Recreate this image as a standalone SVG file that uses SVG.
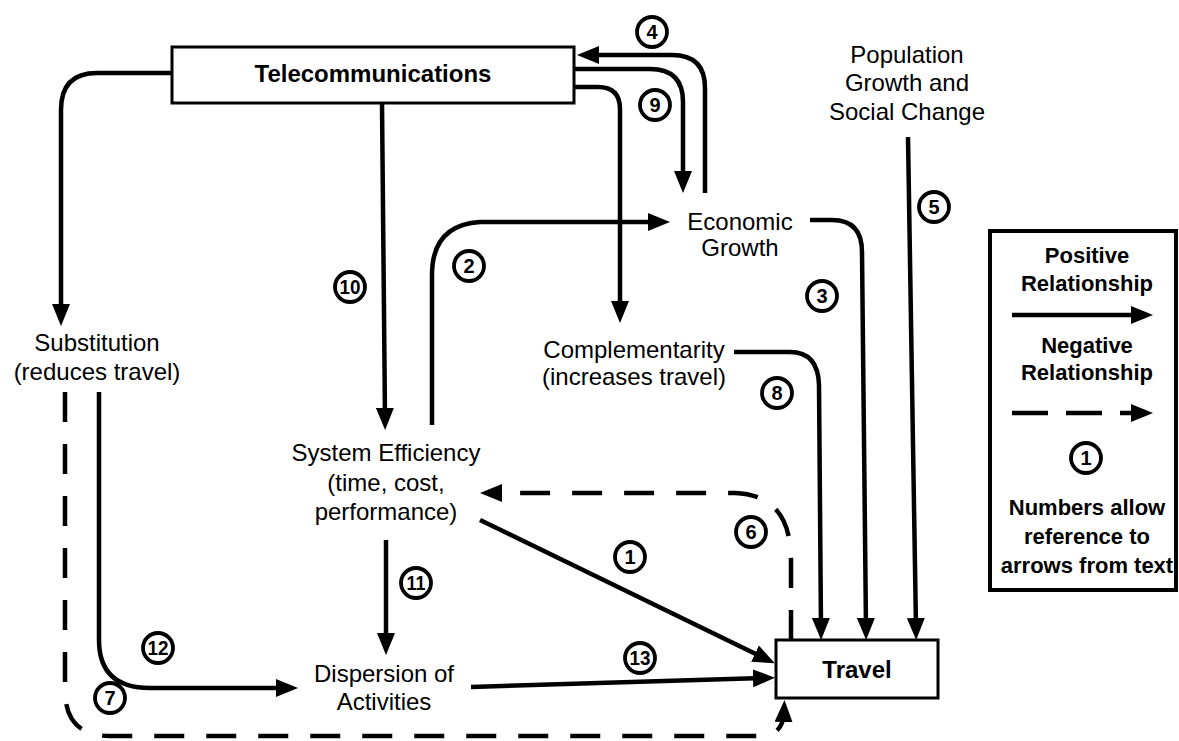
<svg xmlns="http://www.w3.org/2000/svg" width="1179" height="741" viewBox="0 0 1179 741">
<style>
text{font-family:"Liberation Sans",Arial,Helvetica,sans-serif;fill:#000}
.t{font-size:24px;text-anchor:middle}
.b{font-size:24px;font-weight:bold;text-anchor:middle}
.lg{font-size:22px;font-weight:bold;text-anchor:middle}
.box{fill:#fff;stroke:#000;stroke-width:3}
.c{fill:none;stroke:#000;stroke-width:4.5}
.d{fill:none;stroke:#000;stroke-width:4.5;stroke-dasharray:30 22}
.lc{fill:#fff;stroke:#000;stroke-width:3.8}
.ln{font-size:20px;font-weight:bold;text-anchor:middle}
</style>
<defs>
<marker id="ah" markerUnits="userSpaceOnUse" markerWidth="24" markerHeight="18" viewBox="0 0 24 18" refX="10" refY="9" orient="auto">
<path d="M0,0 L22,9 L0,18 z" fill="#000"/>
</marker>
</defs>
<rect width="1179" height="741" fill="#fff"/>

<g id="connectors">
<path class="c" d="M172,73 H97 Q61,73 61,110 V314" marker-end="url(#ah)"/>
<path class="c" d="M382,103 L385,418" marker-end="url(#ah)"/>
<path class="c" d="M705,193 V88 Q705,55 672,55 H589" marker-end="url(#ah)"/>
<path class="c" d="M574,69 H650 Q683,69 683,102 V181" marker-end="url(#ah)"/>
<path class="c" d="M574,87 H598 Q620,87 620,109 V311" marker-end="url(#ah)"/>
<path class="c" d="M432,425 V275 Q432,225 480,222 H658" marker-end="url(#ah)"/>
<path class="c" d="M810,220 H832 Q862,220 862,252 L866,628" marker-end="url(#ah)"/>
<path class="c" d="M908,137 L916,628" marker-end="url(#ah)"/>
<path class="c" d="M734,352 H790 Q818,352 819,385 L821,628" marker-end="url(#ah)"/>
<path class="c" d="M99,392 V640 Q99,688 150,688 H286" marker-end="url(#ah)"/>
<path class="c" d="M386,540 V643" marker-end="url(#ah)"/>
<path class="c" d="M480,520 L764,658" marker-end="url(#ah)"/>
<path class="c" d="M471,687 L763,678" marker-end="url(#ah)"/>
<path class="d" d="M791,640 V560 Q791,495 735,493 H492" marker-end="url(#ah)"/>
<path class="d" d="M65,392 V690 Q65,736 110,736 H760 Q783,736 784,712" marker-end="url(#ah)"/>
</g>

<g id="node-telecom">
<rect class="box" x="172" y="47" width="402" height="56"/>
<text class="b" x="373" y="82">Telecommunications</text>
</g>
<g id="node-population">
<text class="t" x="907" y="63">Population</text>
<text class="t" x="907" y="91">Growth and</text>
<text class="t" x="907" y="120">Social Change</text>
</g>
<g id="node-economic">
<text class="t" x="740" y="230">Economic</text>
<text class="t" x="740" y="256">Growth</text>
</g>
<g id="node-complementarity">
<text class="t" x="634" y="358">Complementarity</text>
<text class="t" x="634" y="385">(increases travel)</text>
</g>
<g id="node-substitution">
<text class="t" x="97" y="351">Substitution</text>
<text class="t" x="97" y="380">(reduces travel)</text>
</g>
<g id="node-efficiency">
<text class="t" x="386" y="461">System Efficiency</text>
<text class="t" x="386" y="491">(time, cost,</text>
<text class="t" x="386" y="520">performance)</text>
</g>
<g id="node-dispersion">
<text class="t" x="384" y="682">Dispersion of</text>
<text class="t" x="384" y="710">Activities</text>
</g>
<g id="node-travel">
<rect class="box" x="776" y="640" width="162" height="58"/>
<text class="b" x="857" y="678">Travel</text>
</g>

<g id="labels">
<circle class="lc" cx="630" cy="557" r="15"/><text class="ln" x="630" y="564">1</text>
<circle class="lc" cx="469" cy="266" r="15"/><text class="ln" x="469" y="273">2</text>
<circle class="lc" cx="822" cy="296" r="15"/><text class="ln" x="822" y="303">3</text>
<circle class="lc" cx="652" cy="32" r="15"/><text class="ln" x="652" y="39">4</text>
<circle class="lc" cx="934" cy="207" r="15"/><text class="ln" x="934" y="214">5</text>
<circle class="lc" cx="751" cy="532" r="15"/><text class="ln" x="751" y="539">6</text>
<circle class="lc" cx="110" cy="698" r="15"/><text class="ln" x="110" y="705">7</text>
<circle class="lc" cx="777" cy="393" r="15"/><text class="ln" x="777" y="400">8</text>
<circle class="lc" cx="655" cy="105" r="15"/><text class="ln" x="655" y="112">9</text>
<circle class="lc" cx="350" cy="287" r="15"/><text class="ln" x="350" y="294" textLength="21" lengthAdjust="spacingAndGlyphs">10</text>
<circle class="lc" cx="416" cy="583" r="15"/><text class="ln" x="416" y="590" textLength="19" lengthAdjust="spacingAndGlyphs">11</text>
<circle class="lc" cx="158" cy="648" r="15"/><text class="ln" x="158" y="655" textLength="21" lengthAdjust="spacingAndGlyphs">12</text>
<circle class="lc" cx="640" cy="658" r="15"/><text class="ln" x="640" y="665" textLength="21" lengthAdjust="spacingAndGlyphs">13</text>
</g>

<g id="legend">
<rect x="990" y="231" width="186" height="359" fill="#fff" stroke="#000" stroke-width="4"/>
<text class="lg" x="1087" y="263">Positive</text>
<text class="lg" x="1087" y="291">Relationship</text>
<path class="c" d="M1012,315 H1141" marker-end="url(#ah)"/>
<text class="lg" x="1087" y="353">Negative</text>
<text class="lg" x="1087" y="380">Relationship</text>
<path class="c" d="M1012,413 H1141" stroke-dasharray="36 18" marker-end="url(#ah)"/>
<circle class="lc" cx="1086" cy="458" r="15"/><text class="ln" x="1086" y="465">1</text>
<text class="lg" x="1087" y="515">Numbers allow</text>
<text class="lg" x="1087" y="544">reference to</text>
<text class="lg" x="1087" y="573">arrows from text</text>
</g>
</svg>
